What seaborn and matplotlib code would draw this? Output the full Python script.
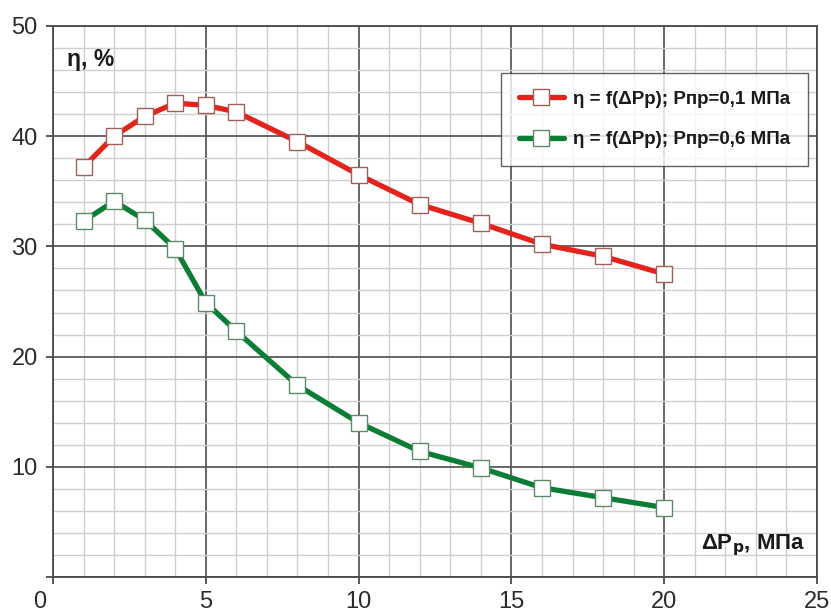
import matplotlib
matplotlib.use("Agg")
import matplotlib.pyplot as plt
import matplotlib.transforms as mtransforms
from matplotlib.ticker import MultipleLocator
import pandas as pd
import seaborn as sns

# pressure drop, MPa
dp = [1, 2, 3, 4, 5, 6, 8, 10, 12, 14, 16, 18, 20]
# efficiency, %
eta_01 = [37.2, 40.0, 41.8, 43.0, 42.8, 42.2, 39.5, 36.5, 33.8, 32.1, 30.2, 29.1, 27.5]
eta_06 = [32.3, 34.1, 32.4, 29.8, 24.9, 22.3, 17.4, 14.0, 11.4, 9.9, 8.1, 7.2, 6.3]
labels = ["η = f(ΔPр); Pпр=0,1 МПа", "η = f(ΔPр); Pпр=0,6 МПа"]
colors = ["#e3231c", "#0b7d34"]
edges = ["#a0605a", "#5f8a6a"]

df = pd.concat([
    pd.DataFrame({"dp": dp, "eta": eta_01, "series": labels[0]}),
    pd.DataFrame({"dp": dp, "eta": eta_06, "series": labels[1]}),
])

sns.set_style("white")
plt.rcParams["font.family"] = ["Liberation Sans", "DejaVu Sans"]

fig = plt.figure(figsize=(8.31, 6.12), dpi=100)
ax = fig.add_axes([53 / 831, 35 / 612, 764 / 831, 551 / 612])

for lab, col, ec in zip(labels, colors, edges):
    sub = df[df["series"] == lab]
    sns.lineplot(data=sub, x="dp", y="eta", ax=ax, color=col, linewidth=3.8,
                 marker="s", markersize=11, markerfacecolor="white",
                 markeredgecolor=ec, markeredgewidth=1.0, label=lab, zorder=5)

ax.set_xlim(0, 25)
ax.set_ylim(0, 50)
ax.xaxis.set_major_locator(MultipleLocator(5))
ax.yaxis.set_major_locator(MultipleLocator(10))
ax.xaxis.set_minor_locator(MultipleLocator(1))
ax.yaxis.set_minor_locator(MultipleLocator(2))
ax.grid(which="minor", color="#cfcfcf", linewidth=1.0)
ax.grid(which="major", color="#5a5a5a", linewidth=1.3)
ax.set_axisbelow(True)
for s in ax.spines.values():
    s.set_color("#4a4a4a")
    s.set_linewidth(1.3)

ax.tick_params(which="major", direction="out", length=5, width=1.3, color="#4a4a4a",
               labelsize=17, labelcolor="#2b2b2b", left=True, bottom=True)
ax.tick_params(axis="x", pad=5)
ax.tick_params(axis="y", pad=6)
ax.tick_params(which="minor", length=0)
ax.set_yticks([0, 10, 20, 30, 40, 50])
ax.set_yticklabels(["", "10", "20", "30", "40", "50"])
ax.set_xticks([0, 5, 10, 15, 20, 25])
ax.set_xticklabels(["0", "5", "10", "15", "20", "25"])
zero = ax.get_xticklabels()[0]
zero.set_transform(zero.get_transform() + mtransforms.ScaledTranslation(-13 / 100, 0, fig.dpi_scale_trans))

ax.set_xlabel("")
ax.set_ylabel("")

ax.text(0.018, 0.94, "η, %", transform=ax.transAxes, fontsize=16.5, fontweight="bold",
        ha="left", va="center", color="#1a1a1a")
ax.text(0.985, 0.058, "ΔP$_\\mathbf{р}$, МПа", transform=ax.transAxes, fontsize=16,
        fontweight="bold", ha="right", va="center", color="#1a1a1a")

leg = ax.legend(loc="upper right", bbox_to_anchor=(0.988, 0.915), fontsize=13.5,
                frameon=True, fancybox=False, handlelength=2.4, borderpad=0.95,
                labelspacing=1.25, handletextpad=0.5, borderaxespad=0)
leg.get_frame().set_edgecolor("#3a3a3a")
leg.get_frame().set_linewidth(1.0)
for t in leg.get_texts():
    t.set_fontweight("bold")
    t.set_color("#1a1a1a")

fig.savefig("out.png", dpi=100, facecolor="white")
